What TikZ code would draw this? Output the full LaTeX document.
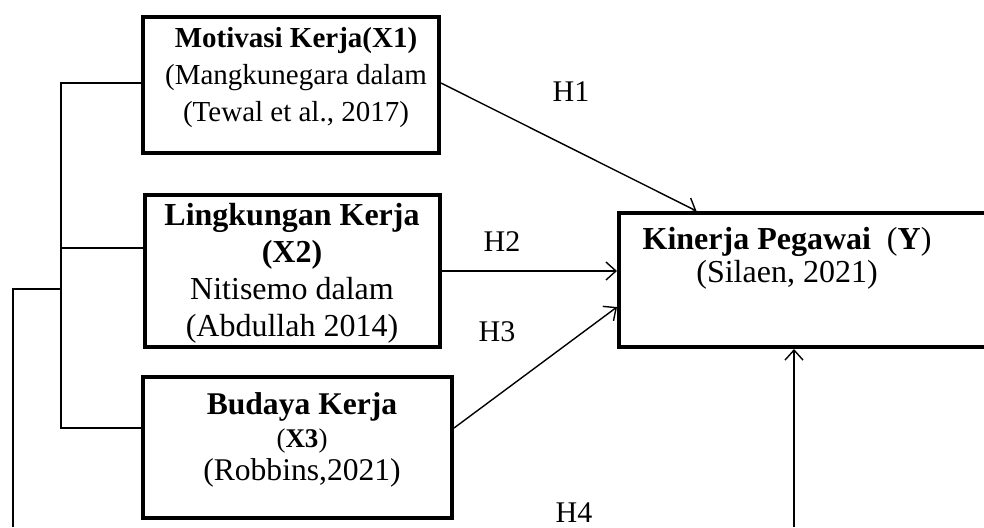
\documentclass[tikz,border=0pt]{standalone}
\usepackage{fontspec}
\setmainfont{Liberation Serif}
\usetikzlibrary{arrows.meta}

\begin{document}
\begin{tikzpicture}[x=0.5pt, y=-0.5pt,
    varbox/.style={draw, rectangle, line width=2pt, inner sep=0pt},
    link/.style={line width=0.7pt},
    hyp/.style={link, -{Straight Barb[length=5pt,width=9pt]}},
    txt/.style={align=center, font=\fontsize{14.5}{18.5}\selectfont},
    hlabel/.style={font=\fontsize{15}{18}\selectfont}]

    \useasboundingbox (0,0) rectangle (984,527);
    \clip (0,0) rectangle (984,527);

    % variable boxes
    \node[varbox, minimum width=148pt, minimum height=68pt] (x1) at (291,85) {};
    \node[varbox, minimum width=147.5pt, minimum height=76pt] (x2) at (292.5,271) {};
    \node[varbox, minimum width=154.5pt, minimum height=70.5pt] (x3) at (297.5,447.5) {};
    \node[varbox, minimum width=195.5pt, minimum height=67pt] (y) at (814.5,280) {};

    \node[txt] (t1) at (296,78) {\textbf{Motivasi Kerja(X1)}\\(Mangkunegara dalam\\(Tewal et al., 2017)};
    \node[txt, font=\fontsize{16}{18.5}\selectfont] (t2) at (292,273)
        {\textbf{Lingkungan Kerja}\\\textbf{(X2)}\\Nitisemo dalam\\(Abdullah 2014)};
    \node[txt, font=\fontsize{15.8}{16.5}\selectfont] (t3) at (302,440)
        {\textbf{Budaya Kerja}\\{\fontsize{13.5}{15}\selectfont(\textbf{X3})}\\(Robbins,2021)};
    \node[txt, font=\fontsize{16}{16.5}\selectfont] (ty) at (787,258)
        {\textbf{Kinerja Pegawai}\ \ (\textbf{Y})\\(Silaen, 2021)};

    % bracket joining X1, X2, X3
    \coordinate (x1in) at ([yshift=1pt]x1.west);
    \coordinate (x2in) at ([yshift=11.5pt]x2.west);
    \coordinate (x3in) at ([yshift=9.75pt]x3.west);
    \coordinate (brx) at (61,289);
    \coordinate (outer) at (13,527);
    \draw[link] (x1in) -- (x1in -| brx) -- (x3in -| brx) -- (x3in);
    \draw[link] (x2in -| brx) -- (x2in);
    \draw[link] (outer) |- (brx);

    % hypotheses
    \coordinate (x3out) at ([yshift=9.75pt]x3.east);
    \coordinate (foot) at (794,527);
    \draw[hyp] ([yshift=1pt]x1.east) -- ([xshift=39.75pt]y.north west);
    \draw[hyp] (x2.east) -- (x2.east -| y.west);
    \draw[hyp] (x3out) -- ([yshift=-13.5pt]y.west);
    \draw[hyp] (foot) -- (foot |- y.south);

    \node[hlabel] (h1) at (571,92) {H1};
    \node[hlabel] (h2) at (502,242) {H2};
    \node[hlabel] (h3) at (497,332) {H3};
    \node[hlabel] (h4) at (574,513) {H4};

\end{tikzpicture}
\end{document}
